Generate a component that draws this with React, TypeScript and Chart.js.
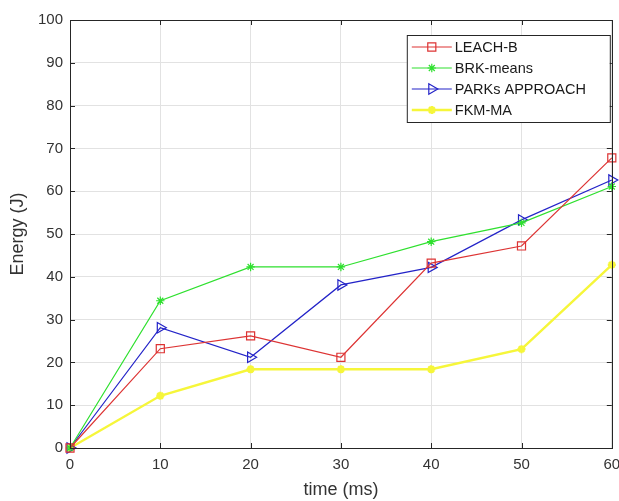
import React, { useEffect, useRef } from "react";
import { Chart, registerables } from "chart.js";
import { drawPoint } from "chart.js/helpers";

Chart.register(...registerables);

const timeMs = [0, 10, 20, 30, 40, 50, 60];
const leachB = [0, 23.2, 26.2, 21.2, 43.2, 47.2, 67.8];
const brkMeans = [0, 34.4, 42.3, 42.3, 48.2, 52.6, 61.1];
const parksApproach = [0, 28.1, 21.2, 38.1, 42.2, 53.3, 62.6];
const fkmMa = [0, 12.2, 18.4, 18.4, 18.4, 23.1, 42.8];

const seriesNames = ["LEACH-B", "BRK-means", "PARKs APPROACH", "FKM-MA"];
const xTitle = "time (ms)";
const yTitle = "Energy (J)";

const FONT = '"Liberation Sans", Arial, Helvetica, sans-serif';
const AXIS_COLOR = "#262626";
const GRID_COLOR = "#e2e2e2";

const toPoints = (ys: number[]) => ys.map((y, i) => ({ x: timeMs[i], y }));

const matlabBox = {
  id: "matlabBox",
  afterDatasetsDraw(chart: any) {
    const { ctx, chartArea, scales } = chart;
    const { left, right, top, bottom } = chartArea;
    ctx.save();
    ctx.strokeStyle = AXIS_COLOR;
    ctx.lineWidth = 1;
    const tl = 5;
    ctx.beginPath();
    scales.y.ticks.forEach((t: any) => {
      const p = Math.round(scales.y.getPixelForValue(t.value)) + 0.5;
      ctx.moveTo(left, p);
      ctx.lineTo(left + tl, p);
      ctx.moveTo(right, p);
      ctx.lineTo(right - tl, p);
    });
    scales.x.ticks.forEach((t: any) => {
      const p = Math.round(scales.x.getPixelForValue(t.value)) + 0.5;
      ctx.moveTo(p, bottom);
      ctx.lineTo(p, bottom - tl);
      ctx.moveTo(p, top);
      ctx.lineTo(p, top + tl);
    });
    ctx.stroke();
    ctx.strokeRect(
      Math.round(left) + 0.5,
      Math.round(top) + 0.5,
      Math.round(right - left),
      Math.round(bottom - top)
    );
    ctx.restore();
  },
};

const matlabLegend = {
  id: "matlabLegend",
  afterDraw(chart: any) {
    const { ctx, chartArea } = chart;
    const boxRight = chartArea.right - 2;
    const boxLeft = boxRight - 203;
    const boxTop = chartArea.top + 15;
    const boxHeight = 87;
    ctx.save();
    ctx.fillStyle = "#ffffff";
    ctx.fillRect(boxLeft, boxTop, boxRight - boxLeft, boxHeight);
    ctx.strokeStyle = AXIS_COLOR;
    ctx.lineWidth = 1;
    ctx.strokeRect(boxLeft + 0.5, boxTop + 0.5, boxRight - boxLeft, boxHeight);
    chart.data.datasets.forEach((ds: any, i: number) => {
      const y = boxTop + 12 + i * 21;
      const x0 = boxLeft + 5;
      const x1 = x0 + 40;
      ctx.strokeStyle = ds.borderColor;
      ctx.lineWidth = ds.borderWidth;
      ctx.beginPath();
      ctx.moveTo(x0, y);
      ctx.lineTo(x1, y);
      ctx.stroke();
      ctx.fillStyle = "rgba(0,0,0,0)";
      ctx.strokeStyle = ds.pointBorderColor;
      ctx.lineWidth = ds.pointBorderWidth;
      drawPoint(
        ctx,
        {
          pointStyle: ds.pointStyle,
          radius: ds.pointRadius,
          rotation: ds.pointRotation || 0,
          borderWidth: ds.pointBorderWidth,
        },
        (x0 + x1) / 2,
        y
      );
      ctx.fillStyle = "#1a1a1a";
      ctx.font = `14.5px ${FONT}`;
      ctx.textAlign = "left";
      ctx.textBaseline = "middle";
      ctx.fillText(ds.label, x1 + 3, y + 1);
    });
    ctx.restore();
  },
};

function makeDataset(label: string, ys: number[], color: string, style: string, radius: number, width: number, rotation = 0) {
  return {
    label,
    data: toPoints(ys),
    borderColor: color,
    backgroundColor: color,
    borderWidth: width,
    pointStyle: style,
    pointRadius: radius,
    pointHoverRadius: radius,
    pointRotation: rotation,
    pointBorderColor: color,
    pointBackgroundColor: "rgba(0,0,0,0)",
    pointBorderWidth: width,
    tension: 0,
    clip: false,
  };
}

export default function App() {
  const canvasRef = useRef<HTMLCanvasElement | null>(null);

  useEffect(() => {
    if (!canvasRef.current) return;
    const chart = new Chart(canvasRef.current, {
      type: "line",
      data: {
        datasets: [
          makeDataset(seriesNames[0], leachB, "#dd3333", "rect", 5.7, 1.2),
          makeDataset(seriesNames[1], brkMeans, "#2ee02e", "star", 4.2, 1.2),
          makeDataset(seriesNames[2], parksApproach, "#2323c8", "triangle", 6, 1.2, 90),
          makeDataset(seriesNames[3], fkmMa, "#f6f63a", "star", 4, 2.4),
        ],
      },
      options: {
        animation: false,
        responsive: true,
        maintainAspectRatio: false,
        layout: { padding: { top: 20, right: 6, left: 0, bottom: 0 } },
        plugins: {
          legend: { display: false },
          tooltip: { enabled: false },
        },
        scales: {
          x: {
            type: "linear",
            min: 0,
            max: 60,
            ticks: {
              stepSize: 10,
              padding: 8,
              color: "#333333",
              font: { family: FONT, size: 15 },
            },
            grid: { color: GRID_COLOR, drawTicks: false },
            border: { display: false },
            title: {
              display: true,
              text: xTitle,
              color: "#333333",
              font: { family: FONT, size: 18 },
              padding: { top: 0, bottom: 0 },
            },
            afterFit(scale: any) {
              scale.height = 53;
              scale.paddingLeft = 0;
              scale.paddingRight = 0;
            },
          },
          y: {
            type: "linear",
            min: 0,
            max: 100,
            ticks: {
              stepSize: 10,
              padding: 7,
              color: "#333333",
              font: { family: FONT, size: 15 },
            },
            grid: { color: GRID_COLOR, drawTicks: false },
            border: { display: false },
            title: {
              display: true,
              text: yTitle,
              color: "#333333",
              font: { family: FONT, size: 18 },
              padding: { top: 7, bottom: 0 },
            },
            afterFit(scale: any) {
              scale.width = 70;
              scale.paddingTop = 0;
              scale.paddingBottom = 0;
            },
          },
        },
      },
      plugins: [matlabBox, matlabLegend],
    });
    return () => chart.destroy();
  }, []);

  return (
    <div style={{ position: "fixed", left: 0, top: 0, width: 619, height: 501, background: "#ffffff" }}>
      <canvas ref={canvasRef} />
    </div>
  );
}
